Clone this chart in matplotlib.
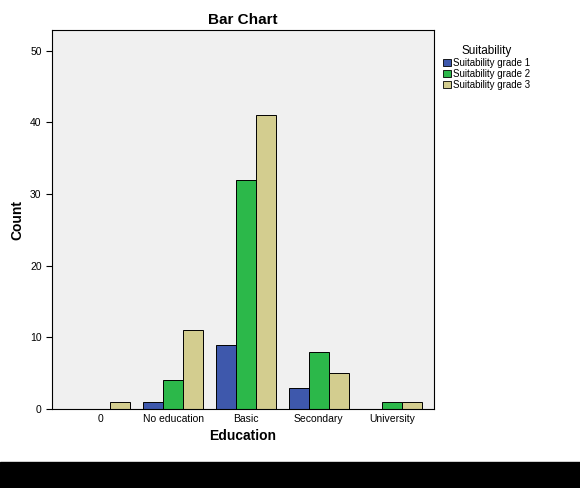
import matplotlib.pyplot as plt
import matplotlib.patches as mpatches
import numpy as np

categories = ['0', 'No education', 'Basic', 'Secondary', 'University']
grade1 = [0, 1, 9, 3, 0]
grade2 = [0, 4, 32, 8, 1]
grade3 = [1, 11, 41, 5, 1]
series = ['Suitability grade 1', 'Suitability grade 2', 'Suitability grade 3']
colors = ['#3e58ac', '#2cb84a', '#d3cd8f']

plt.rcParams['font.family'] = ['Arial', 'Liberation Sans', 'DejaVu Sans']
fig = plt.figure(figsize=(5.8, 4.88), dpi=100)
fig.patch.set_facecolor('white')
ax = fig.add_axes([52/580, 1-409/488, (434-52)/580, (409-30)/488])
ax.set_facecolor('#f0f0f0')

x = np.arange(len(categories))
w = 0.275
for k, vals in enumerate([grade1, grade2, grade3]):
    ax.bar(x + (k-1)*w, vals, w, color=colors[k], edgecolor='black', linewidth=0.7)

ax.set_xlim(-0.66, 4.58)
ax.set_ylim(0, 52.9)
ax.set_yticks([0, 10, 20, 30, 40, 50])
ax.set_xticks(x)
ax.set_xticklabels(categories)
ax.tick_params(labelsize=7.5, length=4)
ax.tick_params(axis='x', length=0)
ax.set_xlabel('Education', fontsize=10, fontweight='bold')
ax.set_ylabel('Count', fontsize=10, fontweight='bold')
ax.set_title('Bar Chart', fontsize=11, fontweight='bold', pad=4)
for s in ax.spines.values():
    s.set_linewidth(0.8)

handles = [mpatches.Patch(facecolor=c, edgecolor='black', linewidth=0.6, label=l) for c, l in zip(colors, series)]
leg = fig.legend(handles=handles, loc='upper left', bbox_to_anchor=(434/580, 1-36/488),
                 title='Suitability', fontsize=7, title_fontsize=8.5, frameon=False,
                 handlelength=0.8, handleheight=0.8, handletextpad=0.3, labelspacing=0.1)

fig.patches.append(mpatches.Rectangle((0, 0), 1, 26/488, transform=fig.transFigure, color='black'))
fig.savefig('out.png', dpi=100)
